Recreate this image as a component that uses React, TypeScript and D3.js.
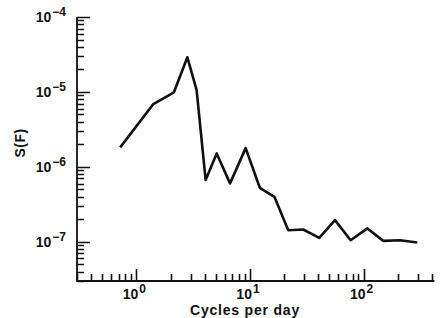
import {useEffect, useRef} from 'react';
import * as d3 from 'd3';

// spectrum
const freq = [0.72, 1.41, 2.14, 2.81, 3.39, 4.07, 5.09, 6.67, 9.16, 12.2, 16.4, 21.7, 29.4, 40.7, 56, 76.9, 108, 149, 209, 297]
	, power = [1.82e-6, 6.89e-6, 9.9e-6, 2.9e-5, 1.06e-5, 6.67e-7, 1.51e-6, 6.02e-7, 1.78e-6, 5.26e-7, 3.99e-7, 1.43e-7, 1.46e-7, 1.13e-7, 1.95e-7, 1.05e-7, 1.51e-7, 1.03e-7, 1.05e-7, 9.8e-8]
	, xExp = [0, 1, 2]
	, yExp = [-4, -5, -6, -7]
	, xTitle = 'Cycles per day'
	, yTitle = 'S(F)'
	;

function App(){
	const svgRef = useRef<SVGSVGElement>(null);

	useEffect(()=>{
		let w = 441
			, h = 318
			, x = d3.scaleLog().domain([0.3, 420]).range([77, 434.4])
			, y = d3.scaleLog().domain([3e-8, 1e-4]).range([281, 17])
			, x0 = x.range()[0]
			, y0 = y.range()[0]
			, svg = d3.select( svgRef.current ).attr('width', w).attr('height', h)
			, font = '"Liberation Sans", Arial, sans-serif'
			, ink = '#111'
			, minors = (lo: number, hi: number, d0: number, d1: number)=>{
				let out: number[] = [];
				for(let d = d0; d <= d1; d++){
					for(let m = 2; m <= 9; m++){
						let v = m * Math.pow(10, d);
						if( v > lo && v <= hi ) out.push( v );
					}
				}
				return out;
			}
			, xTicks = minors(0.3, 400, -1, 2).map((v)=>({v: v, len: 7}))
				.concat( xExp.map((e)=>({v: Math.pow(10, e), len: 12})) )
			, yTicks = minors(3e-8, 1e-4, -8, -5).map((v)=>({v: v, len: 7}))
				.concat( yExp.map((e)=>({v: Math.pow(10, e), len: 13})) )
			, line = d3.line<number>().x((d, i)=>x( freq[i] )).y((d)=>y( d ))
			, axisPath = d3.path()
			, tickPath = d3.path()
			;

		svg.selectAll('*').remove();

		// 坐标轴
		axisPath.moveTo(x0, y.range()[1]);
		axisPath.lineTo(x0, y0);
		axisPath.lineTo(x.range()[1], y0);
		svg.append('path').attr('d', axisPath.toString()).attr('fill', 'none')
			.attr('stroke', ink).attr('stroke-width', 1.8);

		// 刻度
		xTicks.forEach((t)=>{
			let px = Math.round( x( t.v ) ) + 0.5;
			tickPath.moveTo(px, y0);
			tickPath.lineTo(px, y0 - t.len);
		});
		yTicks.forEach((t)=>{
			let py = Math.round( y( t.v ) ) + 0.5;
			tickPath.moveTo(x0, py);
			tickPath.lineTo(x0 + t.len, py);
		});
		svg.append('path').attr('d', tickPath.toString()).attr('fill', 'none')
			.attr('stroke', ink).attr('stroke-width', 1.6);

		// 坐标文字
		let xl = svg.append('g').selectAll('text').data( xExp ).enter().append('text')
			.attr('x', (d)=>x( Math.pow(10, d) ) - 2).attr('y', 299)
			.attr('text-anchor', 'middle').attr('font-family', font).attr('font-weight', 'bold').attr('font-size', 14).attr('fill', ink);
		xl.append('tspan').text('10');
		xl.append('tspan').attr('dy', -6).attr('dx', 1).attr('font-size', 12).text((d)=>String(d));

		let yl = svg.append('g').selectAll('text').data( yExp ).enter().append('text')
			.attr('x', 66).attr('y', (d)=>y( Math.pow(10, d) ) + 5)
			.attr('text-anchor', 'end').attr('font-family', font).attr('font-weight', 'bold').attr('font-size', 14).attr('fill', ink);
		yl.append('tspan').text('10');
		yl.append('tspan').attr('dy', -6).attr('dx', 1).attr('font-size', 12).text((d)=>'\u2212'+ Math.abs(d));

		svg.append('text').attr('x', 245).attr('y', 315).attr('text-anchor', 'middle').attr('letter-spacing', 0.8)
			.attr('font-family', font).attr('font-weight', 'bold').attr('font-size', 14).attr('fill', ink).text( xTitle );
		svg.append('text').attr('transform', 'translate(25, 143) rotate(-90)').attr('text-anchor', 'middle').attr('letter-spacing', 0.5)
			.attr('font-family', font).attr('font-weight', 'bold').attr('font-size', 14).attr('fill', ink).text( yTitle );

		// 谱线
		svg.append('path').datum( power ).attr('d', line).attr('fill', 'none')
			.attr('stroke', '#111').attr('stroke-width', 2.6).attr('stroke-linejoin', 'round');
	}, []);

	return (<svg ref={svgRef}
	             style={{position: 'absolute', left: 0, top: 0, background: '#fff'}}></svg>);
}

export default App;
